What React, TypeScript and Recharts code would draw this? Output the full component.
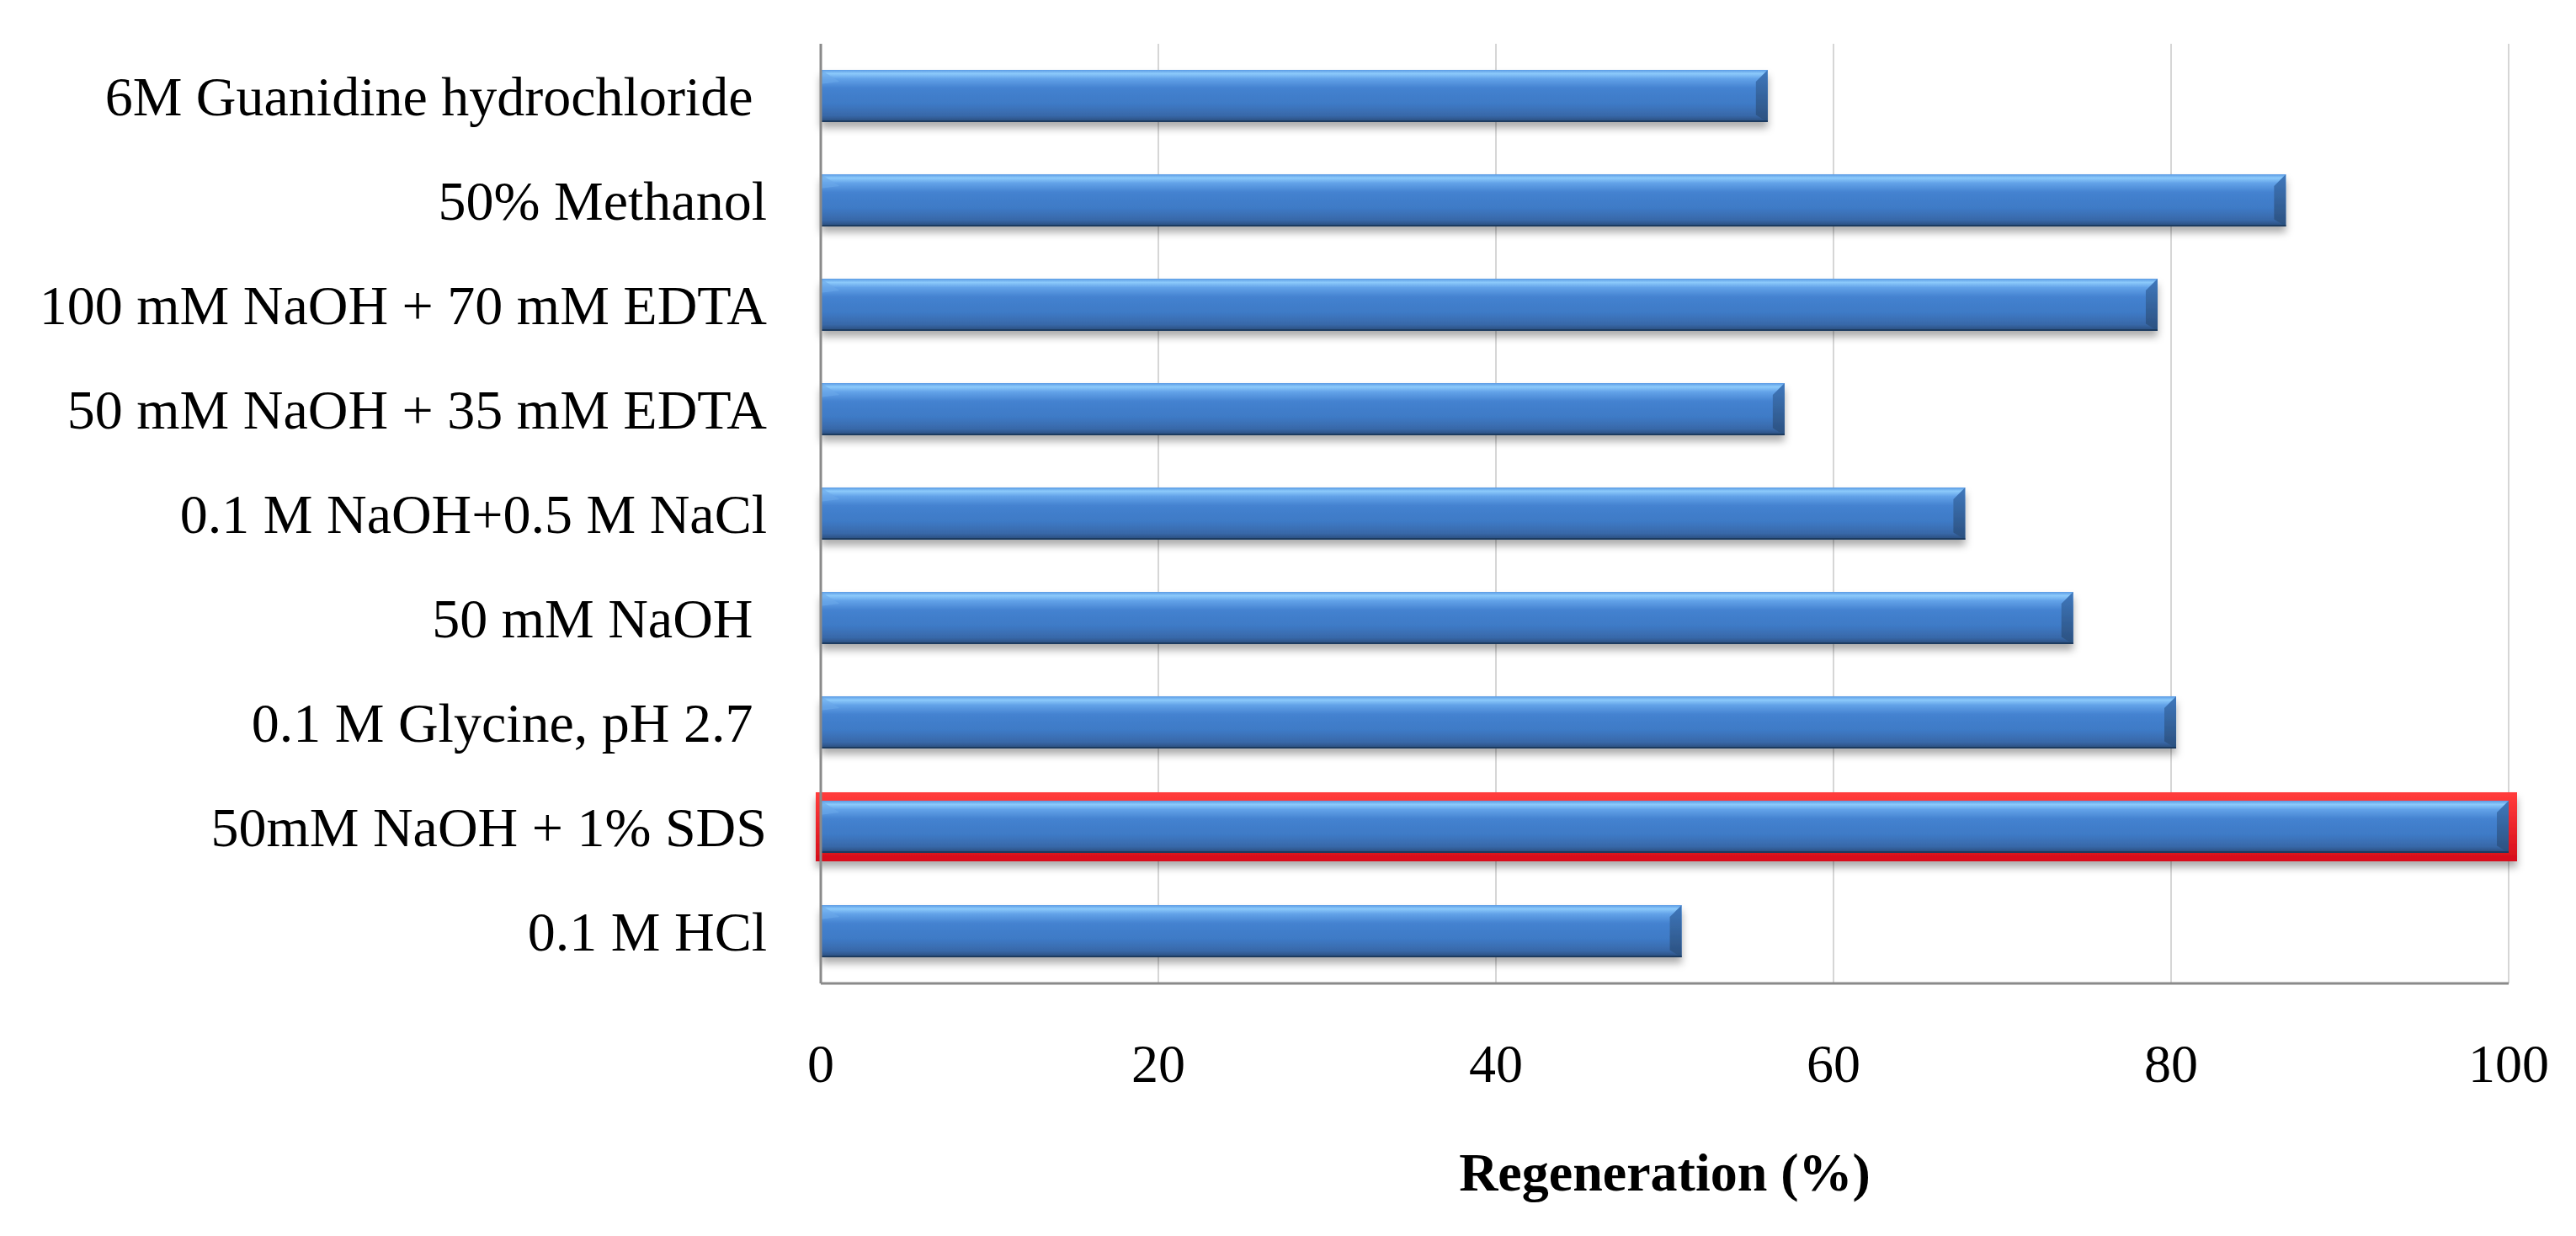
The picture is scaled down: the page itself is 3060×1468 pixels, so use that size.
import { BarChart, Bar, XAxis, YAxis, CartesianGrid, Label } from 'recharts';

// Conditions de régénération, de haut en bas
const CONDITIONS = [
  '6M Guanidine hydrochloride\u00A0',
  '50% Methanol',
  '100 mM NaOH + 70 mM EDTA',
  '50 mM NaOH + 35 mM EDTA',
  '0.1 M NaOH+0.5 M NaCl',
  '50 mM NaOH\u00A0',
  '0.1 M Glycine, pH 2.7\u00A0',
  '50mM NaOH + 1% SDS',
  '0.1 M HCl',
];
const REGENERATION = [56.1, 86.8, 79.2, 57.1, 67.8, 74.2, 80.3, 100, 51.0];
const HIGHLIGHTED = ['50mM NaOH + 1% SDS'];
const X_TICKS = [0, 20, 40, 60, 80, 100];

const FONT = "'Liberation Serif', 'Times New Roman', serif";

const data = CONDITIONS.map((name, i) => ({ name, value: REGENERATION[i] }));

// Barre "3D" façon Excel : dégradé vertical + biseau à droite
function BevelBar(props: any) {
  const { x, y, width, height, payload } = props;
  if (!width || width <= 0) return null;
  const b = Math.min(14, height / 4);
  const hl = HIGHLIGHTED.includes(payload.name);
  return (
    <g filter="url(#barShadow)">
      {hl && (
        <rect x={x - 1} y={y - 5} width={width + 6} height={height + 10} fill="none" stroke="url(#redEdge)" strokeWidth={10} />
      )}
      <rect x={x} y={y} width={width} height={height} fill="url(#barBlue)" />
      <polygon
        points={`${x + width - b},${y + b} ${x + width},${y} ${x + width},${y + height} ${x + width - b},${y + height - b * 0.6}`}
        fill="url(#barEdge)"
      />
      <polygon
        points={`${x},${y} ${x + b * 1.6},${y + b} ${x},${y + b * 1.2}`}
        fill="#6aa8ea"
        opacity={0.6}
      />
      <line x1={x} y1={y + height - 1} x2={x + width} y2={y + height - 1} stroke="#1f3a60" strokeWidth={2} />
    </g>
  );
}

export default function App() {
  return (
    <BarChart
      width={3044}
      height={1452}
      data={data}
      layout="vertical"
      margin={{ top: 44, right: 72, left: 0, bottom: 0 }}
      barCategoryGap="25%"
    >
      <defs>
        <linearGradient id="barBlue" x1="0" y1="0" x2="0" y2="1">
          <stop offset="0%" stopColor="#5a9ae4" />
          <stop offset="7%" stopColor="#8ccafb" />
          <stop offset="17%" stopColor="#62a2e8" />
          <stop offset="35%" stopColor="#4482d0" />
          <stop offset="65%" stopColor="#3e7ac6" />
          <stop offset="88%" stopColor="#3868a8" />
          <stop offset="100%" stopColor="#284a78" />
        </linearGradient>
        <linearGradient id="barEdge" x1="0" y1="0" x2="0" y2="1">
          <stop offset="0%" stopColor="#3f78bd" />
          <stop offset="100%" stopColor="#2b507f" />
        </linearGradient>
        <linearGradient id="redEdge" x1="0" y1="0" x2="0" y2="1">
          <stop offset="0%" stopColor="#ff3a3a" />
          <stop offset="100%" stopColor="#d8101c" />
        </linearGradient>
        <filter id="barShadow" x="-5%" y="-30%" width="110%" height="180%">
          <feDropShadow dx="0" dy="7" stdDeviation="5" floodColor="#000" floodOpacity="0.33" />
        </filter>
      </defs>
      <CartesianGrid horizontal={false} stroke="#d6d6d6" strokeWidth={2} />
      <XAxis
        type="number"
        domain={[0, 100]}
        ticks={X_TICKS}
        height={292}
        tickSize={0}
        tickLine={false}
        tickMargin={72}
        axisLine={{ stroke: '#8a8a8a', strokeWidth: 3 }}
        tick={{ fill: '#000', fontSize: 64, fontFamily: FONT }}
      >
        <Label
          value="Regeneration (%)"
          position="insideBottom"
          offset={46}
          style={{ fill: '#000', fontSize: 64, fontWeight: 'bold', fontFamily: FONT }}
        />
      </XAxis>
      <YAxis
        type="category"
        dataKey="name"
        width={967}
        tickSize={0}
        tickLine={false}
        tickMargin={64}
        interval={0}
        axisLine={{ stroke: '#8a8a8a', strokeWidth: 3 }}
        tick={{ fill: '#000', fontSize: 66, fontFamily: FONT }}
      />
      <Bar dataKey="value" shape={BevelBar} isAnimationActive={false} />
    </BarChart>
  );
}
